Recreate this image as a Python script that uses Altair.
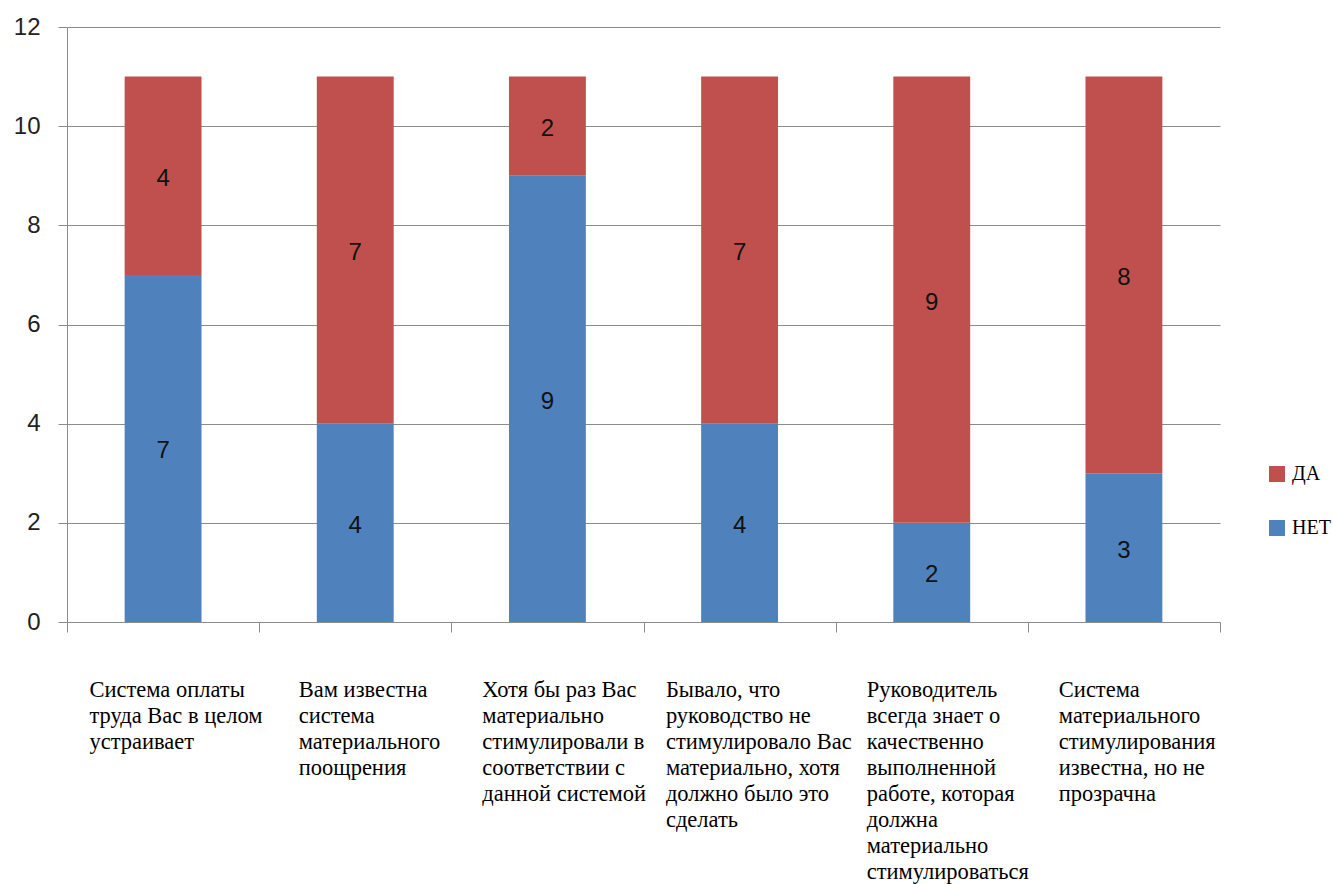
import altair as alt
import pandas as pd

categories = [
    "Система оплаты\nтруда Вас в целом\nустраивает",
    "Вам известна\nсистема\nматериального\nпоощрения",
    "Хотя бы раз Вас\nматериально\nстимулировали в\nсоответствии с\nданной системой",
    "Бывало, что\nруководство не\nстимулировало Вас\nматериально, хотя\nдолжно было это\nсделать",
    "Руководитель\nвсегда знает о\nкачественно\nвыполненной\nработе, которая\nдолжна\nматериально\nстимулироваться",
    "Система\nматериального\nстимулирования\nизвестна, но не\nпрозрачна",
]
keys = ["c1", "c2", "c3", "c4", "c5", "c6"]
net_values = [7, 4, 9, 4, 2, 3]
da_values = [4, 7, 2, 7, 9, 8]
series = ["ДА", "НЕТ"]
colors = ["#C0504D", "#4F81BD"]
y_ticks = [0, 2, 4, 6, 8, 10, 12]

rows = []
for k, n, d in zip(keys, net_values, da_values):
    rows.append({"key": k, "series": "НЕТ", "value": n, "ord": 0, "mid": n / 2})
    rows.append({"key": k, "series": "ДА", "value": d, "ord": 1, "mid": n + d / 2})
df = pd.DataFrame(rows)

W, H = 1153, 595

xscale = alt.Scale(domain=keys, paddingInner=0, paddingOuter=0)
yscale = alt.Scale(domain=[0, 12])

bars = alt.Chart(df).mark_bar(width=alt.RelativeBandSize(0.4)).encode(
    x=alt.X("key:N", scale=xscale, sort=keys,
            axis=alt.Axis(labels=False, title=None, tickBand="extent", tickSize=10,
                          domainColor="#8c8c8c", tickColor="#8c8c8c", grid=False)),
    y=alt.Y("sum(value):Q", scale=yscale, stack="zero",
            axis=alt.Axis(values=y_ticks, title=None, tickSize=9, labelPadding=18,
                          labelFont="Liberation Sans", labelFontSize=24, labelColor="#222222",
                          gridColor="#8c8c8c", domainColor="#8c8c8c", tickColor="#8c8c8c")),
    color=alt.Color("series:N", scale=alt.Scale(domain=series, range=colors),
                    legend=alt.Legend(title=None, orient="none", legendX=1200, legendY=437,
                                      symbolType="square", symbolSize=256, symbolStrokeWidth=0,
                                      labelFont="Liberation Serif", labelFontSize=20,
                                      labelColor="#000000", rowPadding=34, labelOffset=5)),
    order=alt.Order("ord:Q", sort="ascending"),
)

values = alt.Chart(df).mark_text(font="Liberation Sans", fontSize=24, color="#111111",
                                 baseline="middle", align="center", dy=3).encode(
    x=alt.X("key:N", scale=xscale, sort=keys, bandPosition=0.5),
    y=alt.Y("mid:Q", scale=yscale),
    text=alt.Text("value:Q"),
)

layers = [bars, values]
# each label block sits roughly centred in its category slot, left-aligned inside
for k, lab in zip(keys, categories):
    maxlen = max(len(s) for s in lab.split("\n"))
    off = 95.5 - 4.3 * maxlen
    layers.append(
        alt.Chart(pd.DataFrame({"key": [k], "label": [lab]})).mark_text(
            font="Liberation Serif", fontSize=22.5, color="#000000",
            align="left", baseline="top", lineBreak="\n", lineHeight=26, dx=off,
        ).encode(
            x=alt.X("key:N", scale=xscale, sort=keys, bandPosition=0),
            y=alt.value(H + 57),
            text="label:N",
        )
    )

chart = alt.layer(*layers).properties(
    width=W, height=H,
    autosize=alt.AutoSizeParams(type="none"),
    padding={"left": 67, "top": 27, "right": 113, "bottom": 262},
).configure_view(stroke=None).configure_axis(domainWidth=1, gridWidth=1)

chart.save("out.html", embed_options={"renderer": "svg", "actions": False})
